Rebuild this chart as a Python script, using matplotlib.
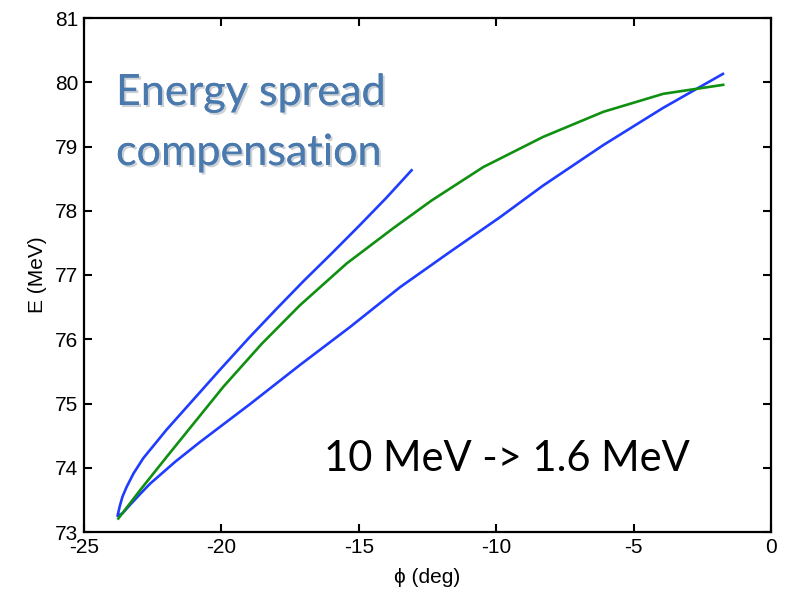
import matplotlib
matplotlib.use("Agg")
import matplotlib.pyplot as plt
import matplotlib.patheffects as pe

# Phase-space trace of the bunch (phase in deg, energy in MeV),
# upper branch from its free end down to the tip, then the lower branch
blue_phi = [-13.08, -14.0, -15.0, -16.0, -17.0, -18.0, -19.0, -20.0, -21.0,
            -22.0, -22.4, -22.84, -23.2, -23.45, -23.6, -23.7, -23.78,
            -23.6, -23.33, -22.96, -22.60, -21.69, -20.78, -18.96, -17.14,
            -15.32, -13.50, -11.68, -9.86, -8.30, -6.11, -3.93, -1.75]
blue_E = [78.63, 78.20, 77.76, 77.33, 76.91, 76.47, 76.02, 75.55, 75.07,
          74.59, 74.38, 74.15, 73.91, 73.70, 73.55, 73.40, 73.25,
          73.29, 73.42, 73.59, 73.75, 74.09, 74.40, 74.99, 75.60,
          76.19, 76.81, 77.36, 77.90, 78.39, 79.02, 79.60, 80.13]

# Compensated centroid curve
green_phi = [-23.75, -22.96, -21.99, -19.93, -18.53, -17.14, -15.44, -13.74,
             -12.35, -10.47, -8.29, -6.10, -3.92, -1.74]
green_E = [73.21, 73.65, 74.17, 75.26, 75.93, 76.53, 77.18, 77.73,
           78.16, 78.68, 79.15, 79.54, 79.82, 79.96]

x_ticks = [-25, -20, -15, -10, -5, 0]
y_ticks = [73, 74, 75, 76, 77, 78, 79, 80, 81]

W, H = 789, 595
fig = plt.figure(figsize=(W / 100, H / 100), dpi=100)
ax = fig.add_axes([84 / W, 1 - 532 / H, (771 - 84) / W, (532 - 18) / H])

ax.plot(blue_phi, blue_E, color="#1f3cff", lw=1.9)
ax.plot(green_phi, green_E, color="#109010", lw=1.9)

ax.set_xlim(-25, 0)
ax.set_ylim(73, 81)
ax.set_xticks(x_ticks)
ax.set_yticks(y_ticks)

tick_font = ["Liberation Sans", "DejaVu Sans"]
ax.set_xticklabels([str(t) for t in x_ticks], family=tick_font, fontsize=15)
ax.set_yticklabels([str(t) for t in y_ticks], family=tick_font, fontsize=15)
ax.tick_params(direction="in", length=6, width=1.5, top=True, right=True,
               pad=4)
for s in ax.spines.values():
    s.set_linewidth(1.6)

ax.set_xlabel("\u03d5 (deg)", family=tick_font, fontsize=15, labelpad=8)
ax.set_ylabel("E (MeV)", family=tick_font, fontsize=15, labelpad=6)

title_color = "#4a79ae"
shadow = [pe.withSimplePatchShadow(offset=(1.5, -1.5), shadow_rgbFace="#9aa4ae",
                                   alpha=0.5), pe.Normal()]
fig.text(116 / W, 1 - 105 / H, "Energy spread", family=["Lato", "DejaVu Sans"],
         fontsize=31, color=title_color, va="baseline", ha="left",
         path_effects=shadow)
fig.text(116 / W, 1 - 165 / H, "compensation", family=["Lato", "DejaVu Sans"],
         fontsize=31, color=title_color, va="baseline", ha="left",
         path_effects=shadow)

fig.text(324 / W, 1 - 471 / H, "10 MeV -> 1.6 MeV",
         family=["Lato", "DejaVu Sans"], fontsize=30, color="black",
         va="baseline", ha="left")

fig.savefig("out.png", dpi=100)
